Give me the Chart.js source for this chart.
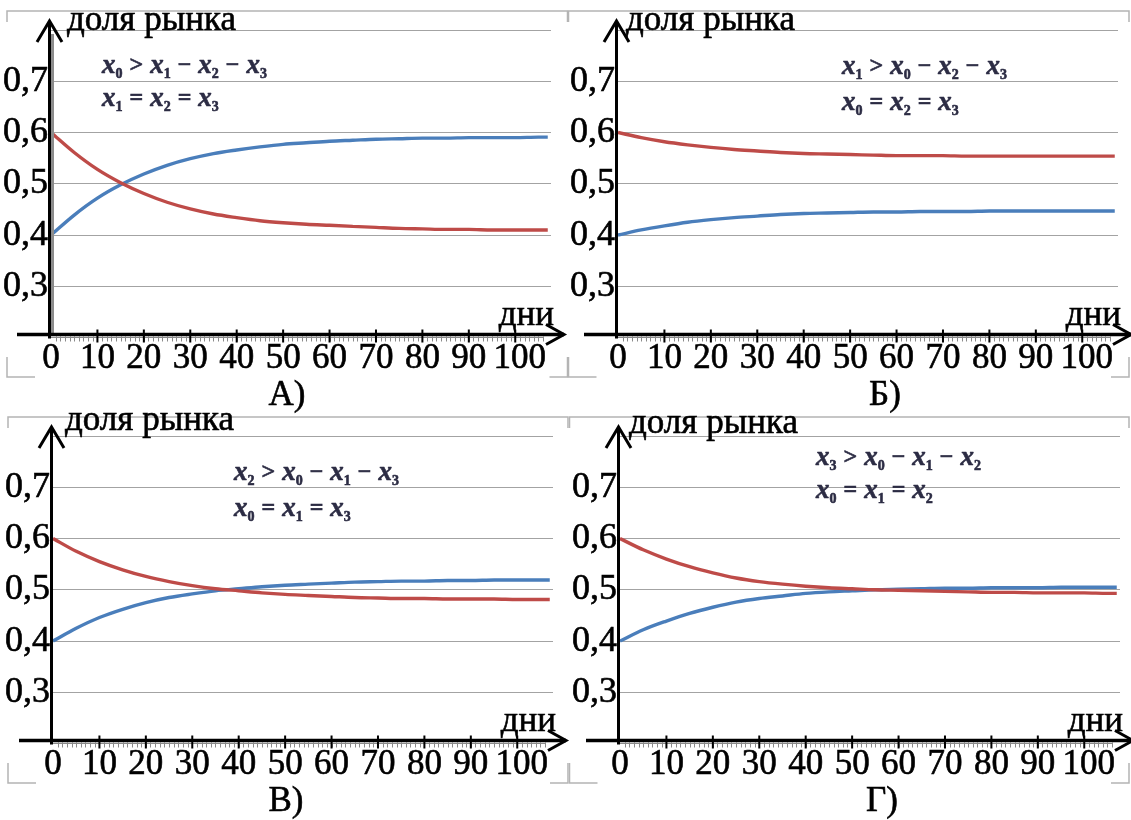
<!DOCTYPE html>
<html>
<head>
<meta charset="utf-8">
<script src="https://cdn.jsdelivr.net/npm/chart.js@4.4.1/dist/chart.umd.min.js"></script>
<style>
  html, body { margin: 0; padding: 0; background: #fff; overflow: hidden; }
  #wrap { position: relative; width: 1131px; height: 820px; }
  canvas { position: absolute; }
</style>
</head>
<body>
<div id="wrap">
  <canvas id="chartA" width="570" height="414" style="left:0px;top:0px"></canvas>
  <canvas id="chartB" width="564" height="414" style="left:567px;top:0px"></canvas>
  <canvas id="chartV" width="568" height="414" style="left:2px;top:406px"></canvas>
  <canvas id="chartG" width="562" height="414" style="left:569px;top:406px"></canvas>
</div>
<script>
// дни
const days = [0, 5, 10, 15, 20, 25, 30, 35, 40, 45, 50, 55, 60, 65, 70, 75, 80, 85, 90, 95, 100, 105, 107];

// доля рынка, панель А)
const blueA = [0.400, 0.439, 0.472, 0.498, 0.519, 0.536, 0.549, 0.559, 0.566, 0.572, 0.577, 0.580, 0.583, 0.585, 0.587, 0.588, 0.589, 0.589, 0.590, 0.590, 0.590, 0.591, 0.591];
const redA  = [0.600, 0.561, 0.528, 0.502, 0.481, 0.464, 0.451, 0.441, 0.434, 0.428, 0.424, 0.421, 0.419, 0.417, 0.415, 0.413, 0.412, 0.411, 0.411, 0.410, 0.410, 0.410, 0.410];
// панель Б)
const blueB = [0.400, 0.410, 0.418, 0.425, 0.430, 0.434, 0.437, 0.440, 0.442, 0.443, 0.444, 0.445, 0.445, 0.446, 0.446, 0.446, 0.447, 0.447, 0.447, 0.447, 0.447, 0.447, 0.447];
const redB  = [0.600, 0.590, 0.582, 0.576, 0.571, 0.567, 0.564, 0.561, 0.559, 0.558, 0.557, 0.556, 0.555, 0.555, 0.555, 0.554, 0.554, 0.554, 0.554, 0.554, 0.554, 0.554, 0.554];
// панель В)
const blueV = [0.400, 0.425, 0.446, 0.462, 0.475, 0.485, 0.492, 0.498, 0.502, 0.506, 0.509, 0.511, 0.513, 0.515, 0.516, 0.517, 0.517, 0.518, 0.518, 0.519, 0.519, 0.519, 0.519];
const redV  = [0.600, 0.575, 0.555, 0.539, 0.526, 0.516, 0.508, 0.502, 0.498, 0.494, 0.491, 0.489, 0.487, 0.485, 0.484, 0.483, 0.483, 0.482, 0.482, 0.482, 0.481, 0.481, 0.481];
// панель Г)
const blueG = [0.400, 0.422, 0.439, 0.454, 0.466, 0.476, 0.483, 0.488, 0.493, 0.496, 0.498, 0.500, 0.501, 0.502, 0.503, 0.503, 0.504, 0.504, 0.504, 0.505, 0.505, 0.505, 0.505];
const redG  = [0.600, 0.578, 0.560, 0.545, 0.533, 0.523, 0.516, 0.511, 0.507, 0.504, 0.502, 0.500, 0.499, 0.498, 0.497, 0.496, 0.495, 0.495, 0.494, 0.494, 0.494, 0.493, 0.493];

// подписи осей
const xTicks = [0, 10, 20, 30, 40, 50, 60, 70, 80, 90, 100];
const xTickLabels = ['0', '10', '20', '30', '40', '50', '60', '70', '80', '90', ' 100'];
const yTicks = [0.3, 0.4, 0.5, 0.6, 0.7, 0.8];
const yTickLabels = ['0,3', '0,4', '0,5', '0,6', '0,7', ''];

const SERIF = '"Liberation Serif", "Times New Roman", serif';
const BLUE = '#4a7ebb';
const RED = '#be4b48';

// формула: x + цифра = индекс
function drawFormula(c, text, x, y) {
  let cx = x;
  c.fillStyle = '#2c2c44';
  c.strokeStyle = '#2c2c44';
  c.lineWidth = 0.6;
  c.textAlign = 'left';
  c.textBaseline = 'alphabetic';
  for (const ch of text) {
    if (ch === ' ') { cx += 7; continue; }
    let dy = 0;
    if (/[0-9]/.test(ch)) {
      c.font = 'bold 14px ' + SERIF;
      dy = 5;
    } else if (ch === 'x') {
      c.font = 'italic bold 27px ' + SERIF;
    } else {
      c.font = 'bold 24px ' + SERIF;
      dy = -1;
    }
    c.fillText(ch, cx, y + dy);
    c.strokeText(ch, cx, y + dy);
    cx += c.measureText(ch).width;
  }
}

function bigText(c, s, x, y) {
  c.fillText(s, x, y);
  c.strokeText(s, x, y);
}

function makeDecor(p) {
  return {
    id: 'decor',
    beforeDraw(chart) {
      // рамка (видны только углы)
      const c = chart.ctx, f = p.frame;
      c.save();
      c.strokeStyle = '#b4b4b4';
      c.lineWidth = 1.5;
      c.beginPath();
      c.moveTo(f[0], f[1] + 11); c.lineTo(f[0], f[1]); c.lineTo(f[2], f[1]); c.lineTo(f[2], f[1] + 11);
      c.moveTo(f[0], f[3] - 20); c.lineTo(f[0], f[3]); c.lineTo(f[0] + 28, f[3]);
      c.moveTo(f[2] - 18, f[3]); c.lineTo(f[2], f[3]); c.lineTo(f[2], f[3] - 20);
      c.stroke();
      c.restore();
    },
    afterDraw(chart) {
      const c = chart.ctx, a = chart.chartArea, xs = chart.scales.x;
      const ay = a.bottom + 0.5;
      const ax = a.left - 1.5;
      const tip = a.right + 13;
      c.save();

      // мелкие деления
      c.strokeStyle = '#8a8a8a';
      c.lineWidth = 1;
      c.beginPath();
      c.moveTo(a.left, ay + 3); c.lineTo(a.right - 8, ay + 3);
      for (let t = 1; t < xs.max - 1; t++) {
        const px = Math.round(xs.getPixelForValue(t)) + 0.5;
        c.moveTo(px, ay + 2); c.lineTo(px, ay + 7);
      }
      c.stroke();

      // тень оси Y (только А)
      if (p.shadow) {
        c.fillStyle = '#8c8c8c';
        c.fillRect(a.left, 34, 3, a.bottom - 34);
      }

      c.strokeStyle = '#000';
      c.lineCap = 'butt';
      // ось X со стрелкой
      c.lineWidth = 3.5;
      c.beginPath();
      c.moveTo(17, ay); c.lineTo(tip, ay);
      c.stroke();
      c.lineWidth = 3;
      c.beginPath();
      c.moveTo(tip - 18, ay - 10); c.lineTo(tip, ay); c.lineTo(tip - 18, ay + 10);
      c.stroke();
      // основные деления
      c.lineWidth = 2;
      c.beginPath();
      xTicks.forEach(v => {
        if (v === 0) return;
        const px = xs.getPixelForValue(v);
        c.moveTo(px, ay - 5); c.lineTo(px, ay + 8);
      });
      c.stroke();

      // ось Y со стрелкой
      c.lineWidth = 3;
      c.beginPath();
      c.moveTo(ax, 21); c.lineTo(ax, ay + 4);
      c.stroke();
      c.beginPath();
      c.moveTo(ax - 12.5, 42); c.lineTo(ax, 21); c.lineTo(ax + 12.5, 42);
      c.stroke();

      // тексты
      c.fillStyle = '#000';
      c.lineWidth = 0.6;
      c.font = '35px ' + SERIF;
      c.textBaseline = 'alphabetic';
      c.textAlign = 'left';
      bigText(c, 'доля рынка', p.titleX, p.titleY);
      c.textAlign = 'right';
      bigText(c, 'дни', a.right + 3, 325);
      c.textAlign = 'center';
      bigText(c, p.letter, p.letterX, 405);

      drawFormula(c, p.f1, p.fx, p.fy1);
      drawFormula(c, p.f2, p.fx, p.fy2);
      c.restore();
    }
  };
}

function makeChart(p) {
  const canvas = document.getElementById(p.id);
  const W = canvas.width, H = canvas.height;
  const toPoints = vals => days.map((d, i) => ({ x: d, y: vals[i] }));
  return new Chart(canvas, {
    type: 'line',
    data: {
      datasets: [
        { label: 'red', data: toPoints(p.red), borderColor: RED, borderWidth: 3.4, pointRadius: 0, cubicInterpolationMode: 'monotone', fill: false },
        { label: 'blue', data: toPoints(p.blue), borderColor: BLUE, borderWidth: 3.4, pointRadius: 0, cubicInterpolationMode: 'monotone', fill: false },
      ],
    },
    options: {
      responsive: false,
      animation: false,
      events: [],
      layout: { padding: { left: 0, top: 30, right: W - 551, bottom: 0 } },
      plugins: { legend: { display: false }, tooltip: { enabled: false } },
      scales: {
        x: {
          type: 'linear',
          min: 0,
          max: 107.7,
          afterFit: scale => { scale.height = H - 334; },
          afterBuildTicks: scale => { scale.ticks = xTicks.map(v => ({ value: v })); },
          grid: { display: false, drawTicks: false },
          border: { display: false },
          ticks: {
            autoSkip: false,
            maxRotation: 0,
            padding: 4,
            color: '#000',
            textStrokeColor: '#000',
            textStrokeWidth: 0.6,
            font: { family: SERIF, size: 35 },
            callback: (v, i) => xTickLabels[i],
          },
        },
        y: {
          min: 0.207,
          max: 0.8,
          afterFit: scale => { scale.width = 51; },
          afterBuildTicks: scale => { scale.ticks = yTicks.map(v => ({ value: v })); },
          grid: { color: '#a3a3a3', lineWidth: 1, drawTicks: false },
          border: { display: false },
          ticks: {
            padding: 3,
            color: '#000',
            textStrokeColor: '#000',
            textStrokeWidth: 0.6,
            font: { family: SERIF, size: 36 },
            callback: (v, i) => yTickLabels[i],
          },
        },
      },
    },
    plugins: [makeDecor(p)],
  });
}

const panels = [
  { id: 'chartA', blue: blueA, red: redA, letter: 'А)', letterX: 287, titleX: 67, titleY: 30,
    f1: 'x0 > x1 − x2 − x3', f2: 'x1 = x2 = x3', fx: 102, fy1: 73, fy2: 106, frame: [7, 11, 567.5, 377], shadow: true },
  { id: 'chartB', blue: blueB, red: redB, letter: 'Б)', letterX: 318, titleX: 59, titleY: 30,
    f1: 'x1 > x0 − x2 − x3', f2: 'x0 = x2 = x3', fx: 275, fy1: 74, fy2: 110, frame: [1.5, 11, 562, 377], shadow: false },
  { id: 'chartV', blue: blueV, red: redV, letter: 'В)', letterX: 284, titleX: 63, titleY: 24,
    f1: 'x2 > x0 − x1 − x3', f2: 'x0 = x1 = x3', fx: 232, fy1: 74, fy2: 110, frame: [6, 11, 566, 377], shadow: false },
  { id: 'chartG', blue: blueG, red: redG, letter: 'Г)', letterX: 313, titleX: 60, titleY: 27,
    f1: 'x3 > x0 − x1 − x2', f2: 'x0 = x1 = x2', fx: 247, fy1: 59, fy2: 92, frame: [0.5, 11, 560, 377], shadow: false },
];

panels.forEach(makeChart);
</script>
</body>
</html>
